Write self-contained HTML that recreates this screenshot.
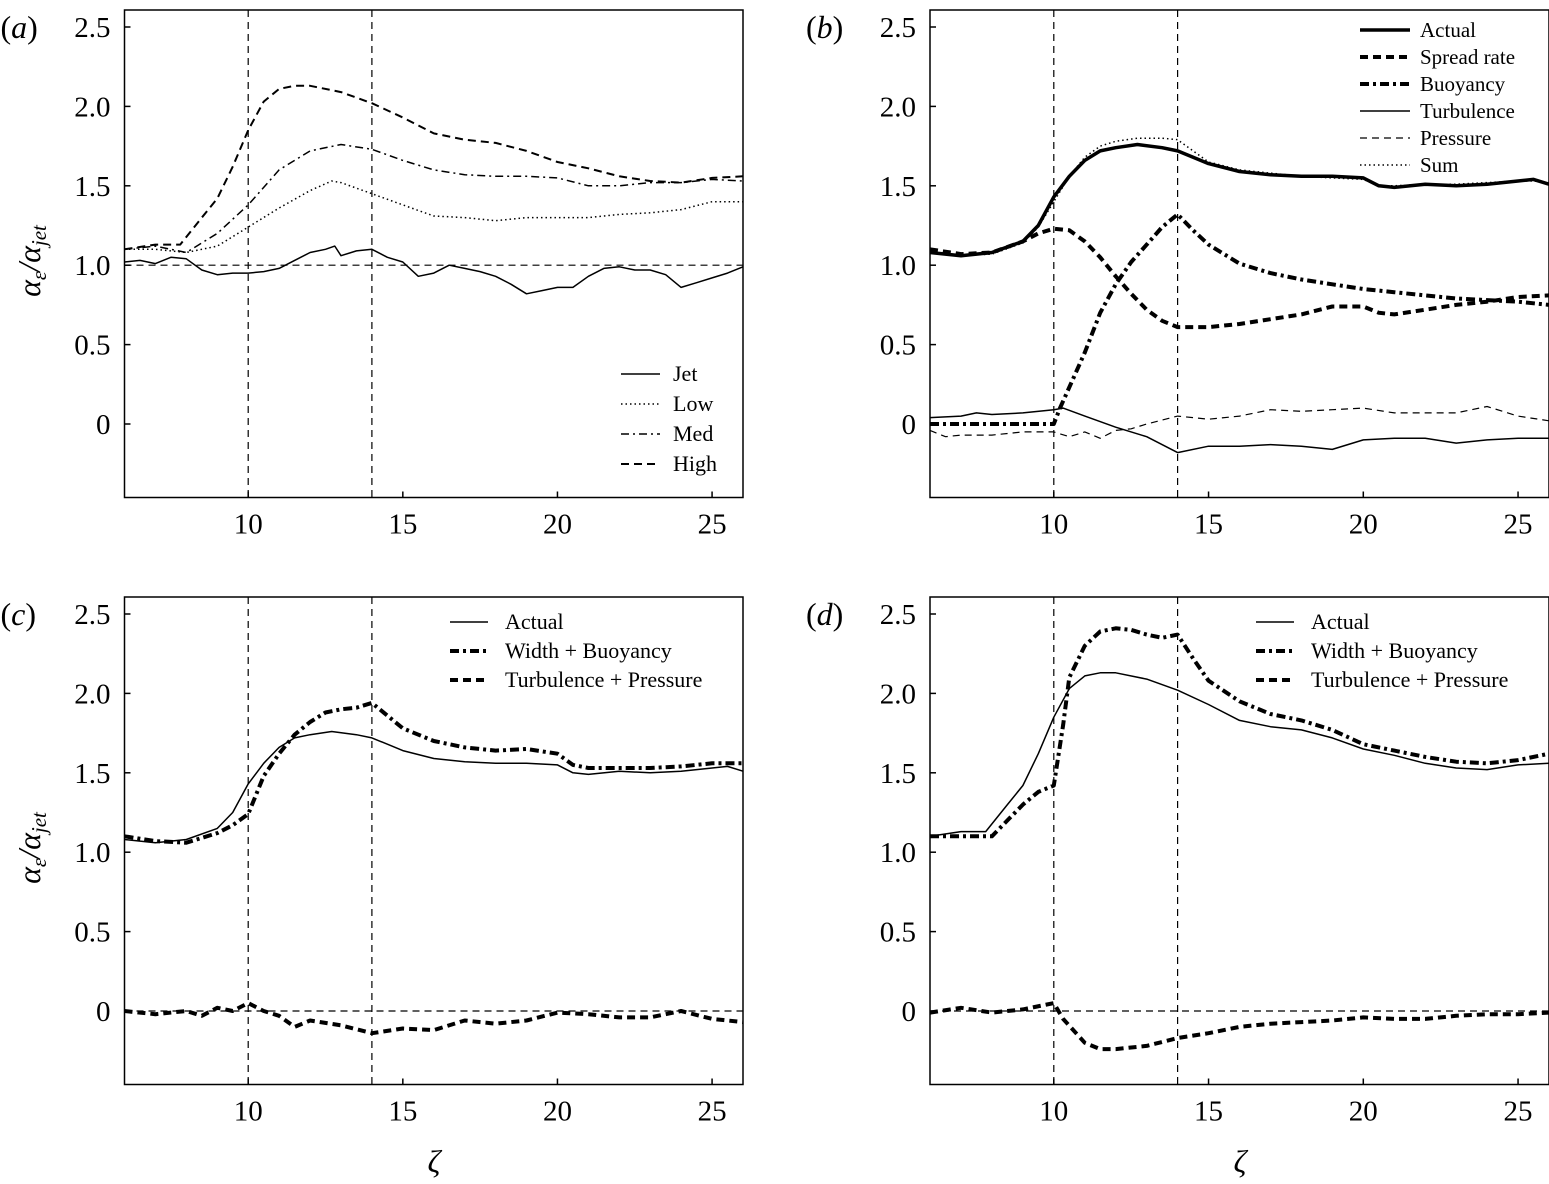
<!DOCTYPE html>
<html><head><meta charset="utf-8">
<style>
body{margin:0;background:#fff}
svg{display:block;font-family:"Liberation Serif",serif}
</style></head>
<body>
<svg id="fig" width="1549" height="1184" viewBox="0 0 1549 1184" xmlns="http://www.w3.org/2000/svg"></svg>
<script>
const ticksX=[10,15,20,25];
const ticksY=[0,0.5,1.0,1.5,2.0,2.5];
const tickLabelsY=["0","0.5","1.0","1.5","2.0","2.5"];

const jetX=[6,6.5,7,7.5,8,8.5,9,9.5,10,10.5,11,11.5,12,12.5,12.8,13,13.5,14,14.5,15,15.5,16,16.5,17,17.5,18,18.5,19,19.5,20,20.5,21,21.5,22,22.5,23,23.5,24,24.5,25,25.5,26];
const jetY=[1.02,1.03,1.01,1.05,1.04,0.97,0.94,0.95,0.95,0.96,0.98,1.03,1.08,1.1,1.12,1.06,1.09,1.1,1.05,1.02,0.93,0.95,1.0,0.98,0.96,0.93,0.88,0.82,0.84,0.86,0.86,0.93,0.98,0.99,0.97,0.97,0.94,0.86,0.89,0.92,0.95,0.99];
const lowX=[6,7,8,9,10,11,12,12.7,13,14,15,16,17,18,19,20,21,22,23,24,25,26];
const lowY=[1.1,1.1,1.08,1.12,1.24,1.36,1.47,1.53,1.52,1.45,1.38,1.31,1.3,1.28,1.3,1.3,1.3,1.32,1.33,1.35,1.4,1.4];
const medX=[6,7,8,9,10,11,12,13,14,15,16,17,18,19,20,21,22,23,24,25,26];
const medY=[1.1,1.12,1.08,1.2,1.38,1.6,1.72,1.76,1.73,1.66,1.6,1.57,1.56,1.56,1.55,1.5,1.5,1.52,1.52,1.54,1.53];
const highX=[6,7,7.8,8.5,9,9.5,10,10.5,11,11.5,12,13,14,15,16,17,18,19,20,21,22,23,24,25,26];
const highY=[1.1,1.13,1.13,1.3,1.42,1.62,1.85,2.03,2.11,2.13,2.13,2.09,2.02,1.93,1.83,1.79,1.77,1.72,1.65,1.61,1.56,1.53,1.52,1.55,1.56];

const actX=[6,7,8,9,9.5,10,10.5,11,11.5,12,12.7,13.5,14,14.5,15,16,17,18,19,20,20.5,21,22,23,24,25,25.5,26];
const actY=[1.08,1.06,1.08,1.15,1.25,1.43,1.56,1.66,1.72,1.74,1.76,1.74,1.72,1.68,1.64,1.59,1.57,1.56,1.56,1.55,1.5,1.49,1.51,1.5,1.51,1.53,1.54,1.51];
const sumY=[1.08,1.06,1.07,1.14,1.24,1.40,1.56,1.68,1.75,1.78,1.80,1.80,1.79,1.72,1.65,1.6,1.58,1.56,1.55,1.54,1.5,1.5,1.51,1.51,1.52,1.53,1.53,1.52];
const sprX=[6,7,8,9,9.5,10,10.5,11,11.5,12,12.5,13,13.5,14,15,16,17,18,19,20,20.5,21,22,23,24,25,26];
const sprY=[1.1,1.07,1.08,1.15,1.2,1.23,1.22,1.15,1.05,0.93,0.82,0.72,0.65,0.61,0.61,0.63,0.66,0.69,0.74,0.74,0.7,0.69,0.72,0.75,0.77,0.8,0.81];
const buoX=[6,10,10.2,11,11.5,12,12.5,13,13.5,14,14.5,15,16,17,18,19,20,21,22,23,24,25,26];
const buoY=[0,0,0.1,0.45,0.7,0.88,1.02,1.13,1.24,1.32,1.22,1.13,1.01,0.95,0.91,0.88,0.85,0.83,0.81,0.79,0.78,0.77,0.75];
const turX=[6,7,7.5,8,9,10,10.3,11,12,13,14,15,16,17,18,19,20,21,22,23,24,25,26];
const turY=[0.04,0.05,0.07,0.06,0.07,0.09,0.1,0.05,-0.02,-0.08,-0.18,-0.14,-0.14,-0.13,-0.14,-0.16,-0.1,-0.09,-0.09,-0.12,-0.1,-0.09,-0.09];
const preX=[6,6.5,7,8,9,10,10.5,11,11.5,12,12.5,13,14,15,16,17,18,19,20,21,22,23,24,25,26];
const preY=[-0.04,-0.08,-0.07,-0.07,-0.05,-0.05,-0.08,-0.05,-0.09,-0.04,-0.03,0,0.05,0.03,0.05,0.09,0.08,0.09,0.1,0.07,0.07,0.07,0.11,0.05,0.02];

const wbcX=[6,7,8,9,9.5,10,10.5,11,11.5,12,12.5,13,13.5,14,14.5,15,16,17,18,19,20,20.5,21,22,23,24,25,26];
const wbcY=[1.1,1.07,1.06,1.12,1.17,1.24,1.48,1.62,1.74,1.82,1.88,1.9,1.91,1.94,1.86,1.78,1.7,1.66,1.64,1.65,1.62,1.55,1.53,1.53,1.53,1.54,1.56,1.56];
const tpcX=[6,7,8,8.5,9,9.5,10,10.5,11,11.5,12,13,14,15,16,17,18,19,20,21,22,23,24,25,26];
const tpcY=[0,-0.02,0,-0.03,0.02,0,0.05,0,-0.03,-0.1,-0.06,-0.09,-0.14,-0.11,-0.12,-0.06,-0.08,-0.06,-0.01,-0.02,-0.04,-0.04,0,-0.05,-0.07];

const wbdX=[6,7,8,8.5,9,9.5,10,10.3,10.5,11,11.5,12,12.5,13,13.5,14,14.5,15,16,17,18,19,20,21,22,23,24,25,26];
const wbdY=[1.1,1.1,1.1,1.2,1.3,1.38,1.42,1.8,2.1,2.3,2.39,2.41,2.4,2.37,2.35,2.37,2.22,2.08,1.95,1.87,1.83,1.77,1.68,1.64,1.6,1.57,1.56,1.58,1.62];
const tpdX=[6,7,8,9,10,10.3,11,11.5,12,13,14,15,16,17,18,19,20,21,22,23,24,25,26];
const tpdY=[-0.01,0.02,-0.01,0.01,0.05,-0.05,-0.2,-0.24,-0.24,-0.22,-0.17,-0.14,-0.1,-0.08,-0.07,-0.06,-0.04,-0.05,-0.05,-0.03,-0.02,-0.02,-0.01];

const NS="http://www.w3.org/2000/svg";
const svg=document.getElementById('fig');
function mk(tag,attrs,parent,text){const e=document.createElementNS(NS,tag);for(const k in attrs)e.setAttribute(k,attrs[k]);if(text!==undefined)e.textContent=text;(parent||svg).appendChild(e);return e;}

const STY={
 thin:{w:1.5,d:""}, dot:{w:1.5,d:"1.5 3"}, dashdot:{w:1.5,d:"8 4 2 4"}, dash:{w:2,d:"8 5"},
 thick:{w:3.5,d:""}, thickdash:{w:4,d:"8 5"}, thickdashdot:{w:4,d:"9 4 3 4"}, thindash:{w:1.2,d:"7 5"}
};

function panel(id,left,right,top,label,series,hline,legend,legPos){
  const y0=top+414, unit=158.8, bottom=top+487.5;
  const sx=v=>left+(v-6)*(right-left)/20;
  const sy=v=>y0-v*unit;
  const g=mk('g',{},svg);
  
  
  const fr=mk('rect',{x:left,y:top,width:right-left,height:bottom-top,fill:'none',stroke:'#000','stroke-width':1.5},g);
  
  
  [10,14].forEach(v=>{const l=mk('line',{x1:sx(v),x2:sx(v),y1:top,y2:bottom,stroke:'#000','stroke-width':1.2,'stroke-dasharray':'7 5'},g);
    
    });
  if(hline!==null){const l=mk('line',{x1:left,x2:right,y1:sy(hline),y2:sy(hline),stroke:'#000','stroke-width':1.2,'stroke-dasharray':'7 5'},g);
    
    }
  ticksX.forEach(v=>{mk('line',{x1:sx(v),x2:sx(v),y1:bottom,y2:bottom-6,stroke:'#000','stroke-width':1.5},g);
    const t=mk('text',{x:sx(v),y:bottom+36,'font-size':29,'text-anchor':'middle'},g,String(v));
    
    });
  ticksY.forEach((v,i)=>{mk('line',{x1:left,x2:left+6,y1:sy(v),y2:sy(v),stroke:'#000','stroke-width':1.5},g);
    const t=mk('text',{x:left-14,y:sy(v)+10,'font-size':29,'text-anchor':'end'},g,tickLabelsY[i]);
    
    });
  const pl=mk('text',{x:left-124,y:top+28,'font-size':32},g);
  pl.innerHTML='(<tspan font-style="italic">'+label+'</tspan>)';
  
  
  series.forEach(s=>{
    const d=s.x.map((v,i)=>(i?'L':'M')+sx(v).toFixed(1)+' '+sy(s.y[i]).toFixed(1)).join(' ');
    const st=STY[s.style];
    const p=mk('path',{d:d,fill:'none',stroke:'#000','stroke-width':st.w,'stroke-dasharray':st.d,'stroke-linejoin':'round'},g);
    
    
  });
  if(legend){
    const lg=mk('g',{},g);
    
    
    series.forEach((s,i)=>{
      const y=legPos.y+i*legPos.dy, st=STY[s.style];
      mk('line',{x1:legPos.x1,x2:legPos.x2,y1:y,y2:y,stroke:'#000','stroke-width':st.w,'stroke-dasharray':st.d},lg);
      const t=mk('text',{x:legPos.tx,y:y+7,'font-size':legPos.fs||21},lg,s.name);
      
      
    });
  }
}

panel('a',124.5,743,10,'a',[
 {name:'Jet',x:jetX,y:jetY,style:'thin'},
 {name:'Low',x:lowX,y:lowY,style:'dot'},
 {name:'Med',x:medX,y:medY,style:'dashdot'},
 {name:'High',x:highX,y:highY,style:'dash'}],1.0,true,{x1:621,x2:660,tx:673,y:374,dy:30,fs:22});
panel('b',930,1549,10,'b',[
 {name:'Actual',x:actX,y:actY,style:'thick'},
 {name:'Spread rate',x:sprX,y:sprY,style:'thickdash'},
 {name:'Buoyancy',x:buoX,y:buoY,style:'thickdashdot'},
 {name:'Turbulence',x:turX,y:turY,style:'thin'},
 {name:'Pressure',x:preX,y:preY,style:'thindash'},
 {name:'Sum',x:actX,y:sumY,style:'dot'}],null,true,{x1:1360,x2:1410,tx:1420,y:30,dy:27});
panel('c',124.5,743,597,'c',[
 {name:'Actual',x:actX,y:actY,style:'thin'},
 {name:'Width + Buoyancy',x:wbcX,y:wbcY,style:'thickdashdot'},
 {name:'Turbulence + Pressure',x:tpcX,y:tpcY,style:'thickdash'}],0,true,{x1:450,x2:488,tx:505,y:622,dy:29,fs:22});
panel('d',930,1549,597,'d',[
 {name:'Actual',x:highX,y:highY,style:'thin'},
 {name:'Width + Buoyancy',x:wbdX,y:wbdY,style:'thickdashdot'},
 {name:'Turbulence + Pressure',x:tpdX,y:tpdY,style:'thickdash'}],0,true,{x1:1256,x2:1294,tx:1311,y:622,dy:29,fs:22});

[[40,261],[40,848]].forEach(p=>{
  const t=mk('text',{x:p[0],y:p[1],'font-size':32,'font-style':'italic','text-anchor':'middle',transform:'rotate(-90 '+p[0]+' '+p[1]+')'});
  t.innerHTML='α<tspan font-size="21" dy="6">ε</tspan><tspan dy="-6">/α</tspan><tspan font-size="21" dy="6">jet</tspan>';
  
  
});
[[434,1172],[1240,1172]].forEach(p=>{
  const t=mk('text',{x:p[0],y:p[1],'font-size':32,'font-style':'italic','text-anchor':'middle'},svg,'ζ');
  
  
});
</script>
</body></html>
